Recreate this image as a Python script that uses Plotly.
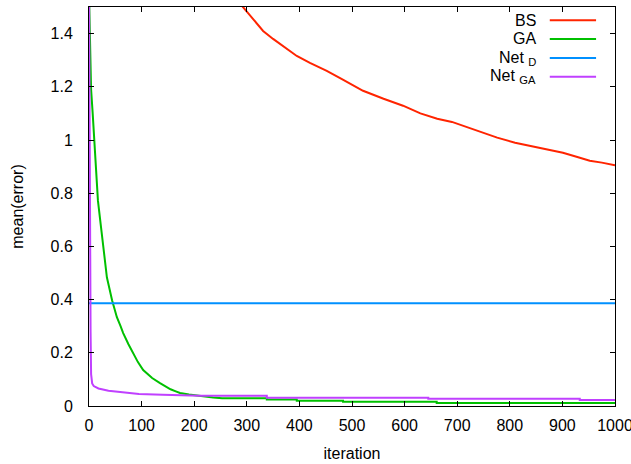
import plotly.graph_objects as go

# ---- data ----
bs_iter = [250, 293, 310, 331, 350, 370, 395, 420, 452, 480, 521, 560, 597, 630, 662,
           690, 711, 740, 776, 810, 838, 870, 901, 930, 952, 975, 1000]
bs_err = [1.60, 1.50, 1.46, 1.41, 1.38, 1.35, 1.316, 1.29, 1.26, 1.23, 1.185, 1.155, 1.129,
          1.10, 1.08, 1.068, 1.054, 1.035, 1.009, 0.99, 0.979, 0.965, 0.952, 0.935, 0.922,
          0.915, 0.905]

ga_iter = [0, 2, 4, 7, 9, 13, 17, 23, 28, 34, 44, 50, 53, 60, 65, 75, 84, 93, 103, 112,
           120, 135, 145, 155, 165, 173, 190, 200, 220, 236, 253, 338, 338, 395, 395, 483,
           483, 661, 661, 1000]
ga_err = [1.55, 1.34, 1.19, 1.10, 1.035, 0.91, 0.772, 0.67, 0.573, 0.484, 0.397, 0.355,
          0.334, 0.30, 0.274, 0.232, 0.199, 0.165, 0.135, 0.118, 0.105, 0.086, 0.074, 0.063,
          0.055, 0.049, 0.043, 0.040, 0.035, 0.032, 0.029, 0.029, 0.024, 0.024, 0.020, 0.020,
          0.016, 0.016, 0.011, 0.011]

netd_iter = [0, 1000]
netd_err = [0.386, 0.386]

netga_iter = [0, 1, 2, 3, 4, 6, 9, 18, 37, 63, 95, 140, 211, 338, 338, 645, 645, 933, 933, 1000]
netga_err = [1.60, 1.0, 0.4, 0.28, 0.12, 0.085, 0.075, 0.066, 0.057, 0.051, 0.045, 0.042,
             0.039, 0.039, 0.031, 0.031, 0.027, 0.027, 0.0225, 0.0225]

names = ["BS", "GA", "Net <sub>D</sub>", "Net <sub>GA</sub>"]
colors = ["#ff2400", "#00c000", "#0090ff", "#c040ff"]
x_ticks = [0, 100, 200, 300, 400, 500, 600, 700, 800, 900, 1000]
y_ticks = [0, 0.2, 0.4, 0.6, 0.8, 1, 1.2, 1.4]

FONT = "Liberation Sans, Arial, sans-serif"
FS = 16

fig = go.Figure()
series = [(bs_iter, bs_err), (ga_iter, ga_err), (netd_iter, netd_err), (netga_iter, netga_err)]
for (xs, ys), nm, c in zip(series, names, colors):
    fig.add_trace(go.Scatter(x=xs, y=ys, mode="lines", name=nm,
                             line=dict(color=c, width=2), showlegend=False))

# gnuplot-style legend: right-aligned text, line sample after it
leg_y = [0.967, 0.920, 0.872, 0.825]
for nm, c, yy in zip(names, colors, leg_y):
    fig.add_annotation(x=0.854, y=yy, xref="paper", yref="paper", text=nm,
                       showarrow=False, xanchor="right", yanchor="middle",
                       font=dict(family=FONT, size=FS, color="#000000"))
    fig.add_shape(type="line", xref="paper", yref="paper", x0=0.876, x1=0.964,
                  y0=yy, y1=yy, line=dict(color=c, width=2))

axis_common = dict(showline=True, linecolor="#000000", linewidth=1, mirror="ticks",
                   ticks="inside", ticklen=5, tickcolor="#000000", showgrid=False,
                   zeroline=False, automargin=False, ticklabeloverflow="allow",
                   tickfont=dict(family=FONT, size=FS, color="#000000"))

fig.update_xaxes(range=[0, 1000], tickvals=x_ticks, ticklabelstandoff=5,
                 title=dict(text="iteration", font=dict(family=FONT, size=FS, color="#000000"),
                            standoff=14),
                 **axis_common)
fig.update_yaxes(range=[0, 1.5], tickvals=y_ticks, ticklabelstandoff=12,
                 title=dict(text="mean(error)", font=dict(family=FONT, size=FS, color="#000000"),
                            standoff=22),
                 **axis_common)

fig.update_layout(width=631, height=464, margin=dict(l=89, r=16, t=7, b=58),
                  plot_bgcolor="#ffffff", paper_bgcolor="#ffffff",
                  font=dict(family=FONT, size=FS, color="#000000"))

fig.write_html("out.html", config={"displayModeBar": False},
               post_script="document.body.style.margin='0';document.body.style.overflow='hidden';")
